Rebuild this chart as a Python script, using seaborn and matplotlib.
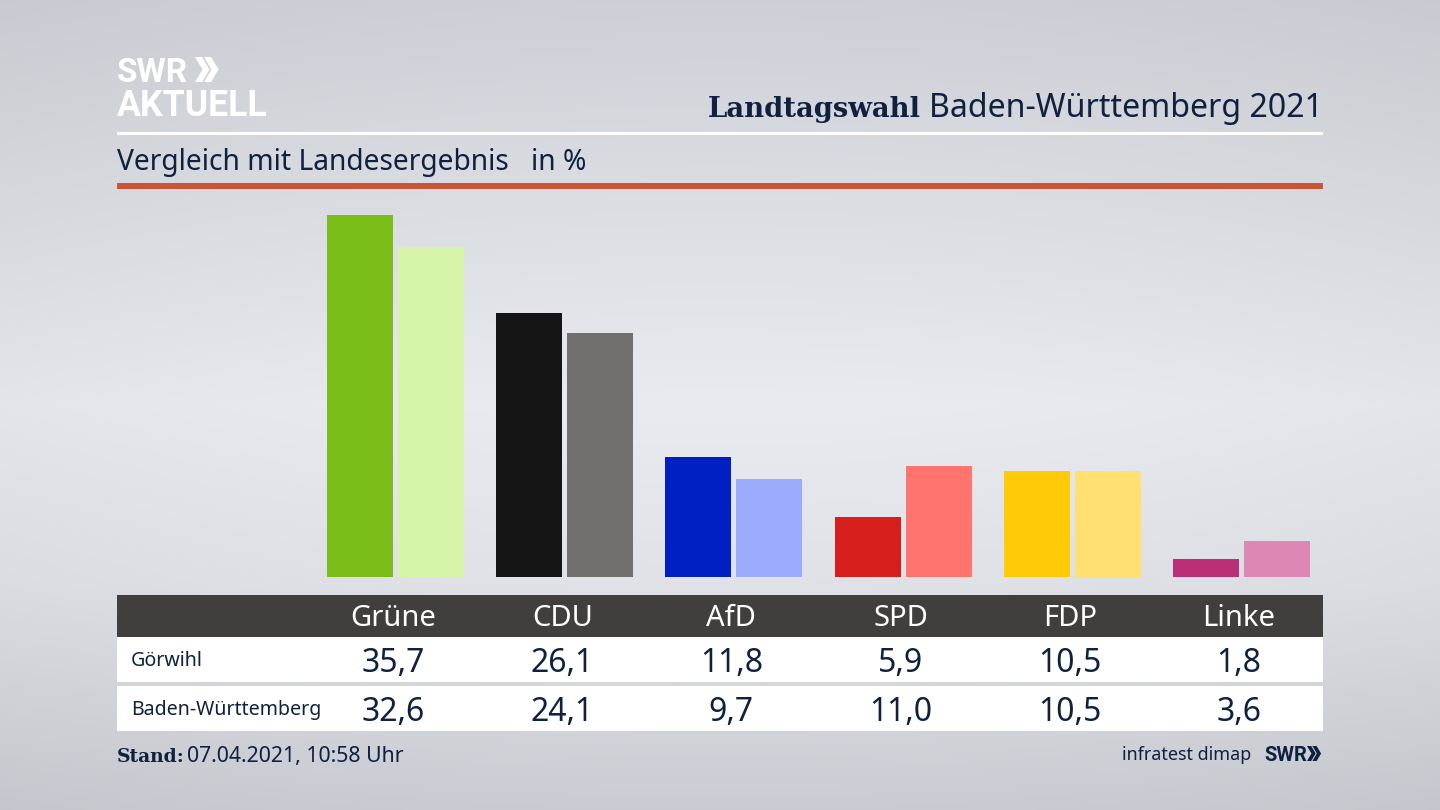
import numpy as np
import pandas as pd
import matplotlib
matplotlib.use("Agg")
import matplotlib.pyplot as plt
from matplotlib.colors import LinearSegmentedColormap
from matplotlib.patches import Polygon, Rectangle
from matplotlib.transforms import blended_transform_factory
import seaborn as sns

parties = ["Grüne", "CDU", "AfD", "SPD", "FDP", "Linke"]
goerwihl = [35.7, 26.1, 11.8, 5.9, 10.5, 1.8]
landesergebnis = [32.6, 24.1, 9.7, 11.0, 10.5, 3.6]
row_labels = ["Görwihl", "Baden-Württemberg"]
colors_dark = ["#7abd18", "#141414", "#0020c4", "#d61f1c", "#ffcb08", "#bb2e78"]
colors_light = ["#d7f5a8", "#72706e", "#9dabff", "#ff746e", "#ffe070", "#dc88b5"]

NAVY = "#10203f"
sns.set_theme(style="white")
plt.rcParams["font.family"] = ["Noto Sans", "DejaVu Sans"]

W, H = 1440, 810
fig = plt.figure(figsize=(W / 100, H / 100), dpi=100)

# background and furniture live in one axes measured in pixels
bg = fig.add_axes([0, 0, 1, 1], zorder=0)
bg.set_xlim(0, W)
bg.set_ylim(H, 0)
bg.axis("off")
cmap = LinearSegmentedColormap.from_list(
    "bg", [(0, "#cdd0d6"), (0.5, "#e9ebf0"), (0.72, "#e0e2e7"), (1, "#c9ccd2")]
)
grad = np.linspace(0, 1, 256).reshape(-1, 1)
rgb = cmap(grad)[:, :, :3]
# slightly darker towards the left and right edges
side = 1 - 0.025 * np.linspace(-1, 1, 256) ** 2
rgb = rgb * side.reshape(1, -1, 1)
bg.imshow(rgb, extent=[0, W, H, 0], aspect="auto", zorder=0)

def band(x0, x1, y0, y1, color):
    bg.add_patch(Rectangle((x0, y0), x1 - x0, y1 - y0, color=color, lw=0, zorder=1))

def chevrons(x, y, h, color):
    # the two arrows of the SWR logo
    w = h * 0.3
    t = h * 0.28
    for off in (0, t + h * 0.08):
        pts = [(x + off, y), (x + off + t, y), (x + off + t + w, y + h / 2),
               (x + off + t, y + h), (x + off, y + h), (x + off + w, y + h / 2)]
        bg.add_patch(Polygon(pts, color=color, lw=0, zorder=3))

band(117, 1323, 132, 135, "white")
band(117, 1323, 183, 189, "#cc5238")
band(117, 1323, 595, 637, "#403f3d")
band(117, 1323, 637, 682, "white")
band(117, 1323, 686, 731, "white")

# logo
bg.text(117, 82, "SWR", color="white", fontsize=24, fontweight="bold", family="Roboto",
        va="baseline", ha="left", zorder=3)
chevrons(195, 57, 25, "white")
bg.text(117, 116, "AKTUELL", color="white", fontsize=25.7, fontweight="bold", family="Roboto",
        va="baseline", ha="left", zorder=3)

# header
bg.text(1323, 117, "Baden-Württemberg 2021", color=NAVY, fontsize=23.1, va="baseline", ha="right", zorder=3)
bg.text(921, 117, "Landtagswahl", color=NAVY, fontsize=19.8, fontweight="bold",
        family="DejaVu Serif", va="baseline", ha="right", zorder=3)
bg.text(117, 170, "Vergleich mit Landesergebnis", color=NAVY, fontsize=20.3, va="baseline", ha="left", zorder=3)
bg.text(531, 170, "in %", color=NAVY, fontsize=20.3, va="baseline", ha="left", zorder=3)

# footer
bg.text(117, 762, "Stand:", color=NAVY, fontsize=13.4, fontweight="bold",
        family="DejaVu Serif", va="baseline", ha="left", zorder=3)
bg.text(187, 762, "07.04.2021, 10:58 Uhr", color=NAVY, fontsize=15.3, va="baseline", ha="left", zorder=3)
bg.text(1251, 760, "infratest dimap", color=NAVY, fontsize=12.9, va="baseline", ha="right", zorder=3)
bg.text(1264, 761, "SWR", color=NAVY, fontsize=14.5, fontweight="bold", family="Roboto",
        va="baseline", ha="left", zorder=3)
chevrons(1307, 746, 15, NAVY)

# bars
df = pd.DataFrame({
    "party": parties * 2,
    "region": [row_labels[0]] * 6 + [row_labels[1]] * 6,
    "value": goerwihl + landesergebnis,
})
ax_left, ax_right, ax_top, ax_bottom = 117, 1323, 200, 577
ax = fig.add_axes([ax_left / W, 1 - ax_bottom / H, (ax_right - ax_left) / W, (ax_bottom - ax_top) / H],
                  zorder=2)
ax.patch.set_alpha(0)
sns.barplot(data=df, x="party", y="value", hue="region", order=parties, hue_order=row_labels,
            width=0.84, gap=0.07, legend=False, ax=ax)
for container, cols in zip(ax.containers, [colors_dark, colors_light]):
    for bar, col in zip(container, cols):
        bar.set_facecolor(col)
        bar.set_edgecolor("none")
spacing = 169.2
ax.set_xlim((ax_left - 395.5) / spacing, (ax_right - 395.5) / spacing)
ax.set_ylim(0, (ax_bottom - ax_top) / 10.13)
ax.set_xlabel("")
ax.set_ylabel("")
ax.set_xticks([])
ax.set_yticks([])
sns.despine(ax=ax, left=True, bottom=True)

# table under the bars, columns follow the bar axis
trans = blended_transform_factory(ax.transData, bg.transData)
label_shift = -2.5 / spacing
for i, party in enumerate(parties):
    x = i + label_shift
    ax.text(x, 626, party, transform=trans, color="white", fontsize=21, ha="center", va="baseline", clip_on=False)
    ax.text(x, 672, f"{goerwihl[i]:.1f}".replace(".", ","), transform=trans, color=NAVY, fontsize=23,
            ha="center", va="baseline", clip_on=False)
    ax.text(x, 721, f"{landesergebnis[i]:.1f}".replace(".", ","), transform=trans, color=NAVY, fontsize=23,
            ha="center", va="baseline", clip_on=False)
bg.text(131, 666, row_labels[0], color=NAVY, fontsize=14.1, va="baseline", ha="left", zorder=3)
bg.text(131, 715, row_labels[1], color=NAVY, fontsize=14.1, va="baseline", ha="left", zorder=3)

fig.savefig("out.png", dpi=100)
